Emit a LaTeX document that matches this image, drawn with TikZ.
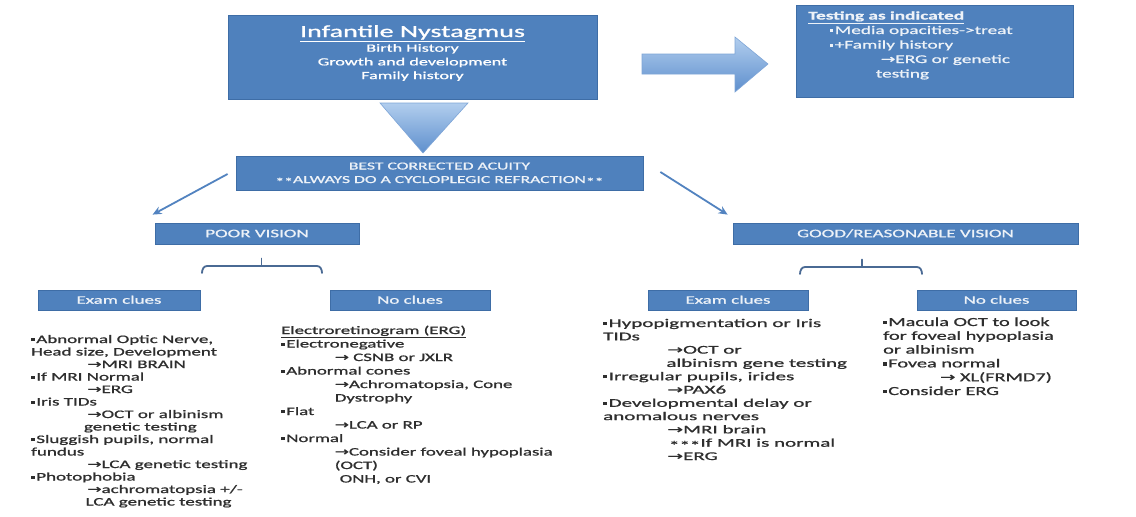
\documentclass[tikz,border=0pt]{standalone}
\usepackage{fontspec}
\usepackage{graphicx}
\setmainfont{Carlito}[FakeBold=0.8]
\newfontfamily\arrfont{DejaVu Sans}[FakeBold=0.8]
\usetikzlibrary{arrows.meta}
\definecolor{boxblue}{HTML}{4F81BD}
\definecolor{boxedge}{HTML}{3E6DA6}
\definecolor{lbltext}{HTML}{EDF2F8}
\definecolor{bodytext}{HTML}{2E2E2E}
\definecolor{connblue}{HTML}{5283C0}
\definecolor{braceblue}{HTML}{4A6A94}
\definecolor{shadetop}{HTML}{B2CEEE}
\definecolor{shadebot}{HTML}{5E8FCD}
\newcommand\sx[1]{\scalebox{1.65}[1]{#1}}
\newcommand\sxw[1]{\scalebox{1.78}[1]{#1}}
\newcommand\bul{\raisebox{1.8pt}{\rule{2.1pt}{3.2pt}}\hspace{1pt}}
\newcommand\ra{\scalebox{0.9}[1.0]{\arrfont →}}
\newcommand\lowast{\raisebox{-0.22em}{*}}
\tikzset{
  box/.style={fill=boxblue, draw=boxedge, line width=0.8pt, inner sep=0pt},
  lbl/.style={box, text=lbltext, font=\fontsize{11.5}{13}\selectfont, text height=7.4pt, text depth=0pt},
  body/.style={anchor=base west, inner sep=0pt, text=bodytext},
  conn/.style={draw=connblue, line width=1.8pt, -{Stealth[length=9pt,width=8pt]}},
  bracket/.style={draw=braceblue, line width=1.8pt, line cap=round},
  bigshape/.style={top color=shadetop, bottom color=shadebot, draw=shadebot!80!white, line width=0.6pt},
}
\begin{document}
\begin{tikzpicture}[x=1pt,y=-1pt]
\path[use as bounding box, fill=white] (0,0) rectangle (1136,517);

% top box
\node[box, minimum width=369pt, minimum height=84pt] (top) at (412.5,57) {};
\node[anchor=base, inner sep=0pt, text=white, font=\fontsize{11}{13.7}\selectfont] (toptxt) at (412.5,37)
 {\sx{\begin{tabular}[t]{@{}c@{}}
 {\fontsize{17}{20}\selectfont\underline{Infantile Nystagmus}}\\[1pt]
 Birth History\\
 Growth and development\\
 Family history
 \end{tabular}}};

% right box
\node[box, minimum width=277pt, minimum height=92pt] (testing) at (934.5,51) {};
\node[anchor=base west, inner sep=0pt, text=lbltext, font=\fontsize{11.7}{14.5}\selectfont] (testtxt) at (808,19.5)
 {\sx{\begin{tabular}[t]{@{}l@{}}
 \textbf{\underline{Testing as indicated}}\\
 \hspace*{13pt}\bul Media opacities->treat\\
 \hspace*{13pt}\bul +Family history\\
 \hspace*{44pt}\ra ERG or genetic\\
 \hspace*{41pt}testing
 \end{tabular}}};

% big right arrow
\path[bigshape] (642,54) -- (735,54) -- (735,37) -- (768,64) -- (735,92) -- (735,74) -- (642,74) -- cycle;
% down triangle
\path[bigshape] (380,103) -- (468,103) -- (423,153) -- cycle;

% best corrected acuity
\node[box, minimum width=407pt, minimum height=34pt] (bca) at (439.5,173) {};
\node[anchor=base, inner sep=0pt, text=lbltext, font=\fontsize{10.7}{13.5}\selectfont] (bcatxt) at (439.5,169.5)
 {\sx{\begin{tabular}[t]{@{}c@{}}
 BEST CORRECTED ACUITY\\
 \lowast\lowast ALWAYS DO A CYCLOPLEGIC REFRACTION\lowast\lowast
 \end{tabular}}};

% vision boxes
\node[lbl, minimum width=204pt, minimum height=21pt] (poor) at (257,233.5) {\sx{POOR VISION}};
\node[lbl, minimum width=345pt, minimum height=21pt] (good) at (905.5,233.5) {\sx{GOOD/REASONABLE VISION}};

\draw[conn] ([xshift=-8pt,yshift=-1pt]bca.west) -- ([shift={(-2pt,8pt)}]poor.north west);
\draw[conn] ([xshift=17pt,yshift=1pt]bca.east) -- ([shift={(-5pt,8pt)}]good.north west);

% brackets
\draw[bracket] (202,273) to[out=90,in=180] (207,266) -- (317,266) to[out=0,in=90] (322,273);
\draw[bracket] (261.5,266) -- (261.5,258.5);
\draw[bracket] (800,274) to[out=90,in=180] (805,267) -- (917,267) to[out=0,in=90] (922,274);
\draw[bracket] (862,267) -- (862,259.5);

% clue boxes
\node[lbl, minimum width=162pt, minimum height=20pt] (lexambox) at (119,300) {\sx{Exam clues}};
\node[lbl, minimum width=160pt, minimum height=20pt] (lnonebox) at (410,300) {\sx{No clues}};
\node[lbl, minimum width=160pt, minimum height=20pt] (rexambox) at (728,300) {\sx{Exam clues}};
\node[lbl, minimum width=159pt, minimum height=20pt] (rnonebox) at (996.5,300) {\sx{No clues}};

% left exam clues text
\node[body, font=\fontsize{11.5}{12.5}\selectfont] (lexam) at (31,343)
 {\sx{\begin{tabular}[t]{@{}l@{}}
 \bul Abnormal Optic Nerve,\\
 Head size, Development\\
 \hspace*{34pt}\ra MRI BRAIN\\
 \bul If MRI Normal\\
 \hspace*{34pt}\ra ERG\\
 \bul Iris TIDs\\
 \hspace*{34pt}\ra OCT or albinism\\
 \hspace*{32pt}genetic testing\\
 \bul Sluggish pupils, normal\\
 fundus\\
 \hspace*{34pt}\ra LCA genetic testing\\
 \bul Photophobia\\
 \hspace*{34pt}\ra achromatopsia +/-\\
 \hspace*{33pt}LCA genetic testing
 \end{tabular}}};

% left no clues text
\node[body, font=\fontsize{11.4}{13.5}\selectfont] (lnone) at (281,334)
 {\sx{\begin{tabular}[t]{@{}l@{}}
 \underline{Electroretinogram (ERG)}\\
 \bul Electronegative\\
 \hspace*{32.5pt}\ra\ CSNB or JXLR\\
 \bul Abnormal cones\\
 \hspace*{32.5pt}\ra Achromatopsia, Cone\\
 \hspace*{32.5pt}Dystrophy\\
 \bul Flat\\
 \hspace*{32.5pt}\ra LCA or RP\\
 \bul Normal\\
 \hspace*{32.5pt}\ra Consider foveal hypoplasia\\
 \hspace*{32.5pt}(OCT)\\
 \hspace*{35.5pt}ONH, or CVI
 \end{tabular}}};

% right exam clues text
\node[body, font=\fontsize{11.8}{13.3}\selectfont] (rexam) at (603,327)
 {\sxw{\begin{tabular}[t]{@{}l@{}}
 \bul Hypopigmentation or Iris\\
 TIDs\\
 \hspace*{36pt}\ra OCT or\\
 \hspace*{35.5pt}albinism gene testing\\
 \bul Irregular pupils, irides\\
 \hspace*{36pt}\ra PAX6\\
 \bul Developmental delay or\\
 anomalous nerves\\
 \hspace*{36pt}\ra MRI brain\\
 \hspace*{37pt}\lowast\lowast\lowast If MRI is normal\\
 \hspace*{36pt}\ra ERG
 \end{tabular}}};

% right no clues text
\node[body, font=\fontsize{12.3}{13.8}\selectfont] (rnone) at (883,326)
 {\sx{\begin{tabular}[t]{@{}l@{}}
 \bul Macula OCT to look\\
 for foveal hypoplasia\\
 or albinism\\
 \bul Fovea normal\\
 \hspace*{34.5pt}\ra\ XL(FRMD7)\\
 \bul Consider ERG
 \end{tabular}}};
\end{tikzpicture}
\end{document}
